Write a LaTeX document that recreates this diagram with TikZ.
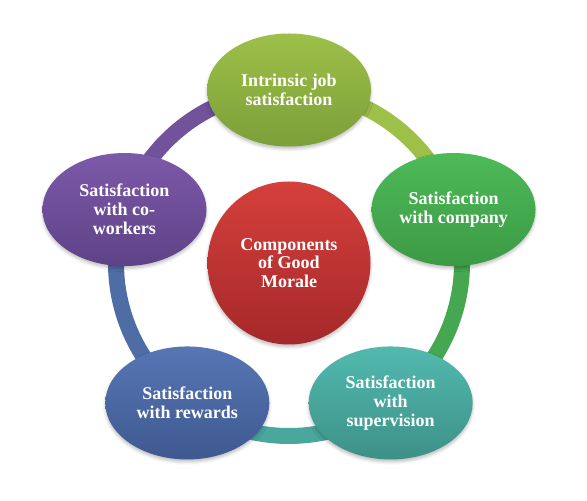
\documentclass[tikz,border=0pt]{standalone}
\usepackage{fontspec}
\setmainfont{Liberation Serif}
\usepackage{tikz}
\usetikzlibrary{calc}
\usetikzlibrary{shapes.geometric}
\usetikzlibrary{shadows.blur}

\definecolor{jobtop}{HTML}{9DC049}
\definecolor{jobbot}{HTML}{7C9F39}
\definecolor{comtop}{HTML}{4DBA58}
\definecolor{combot}{HTML}{3C9A45}
\definecolor{suptop}{HTML}{52B9AF}
\definecolor{supbot}{HTML}{3D9187}
\definecolor{rewtop}{HTML}{5676B4}
\definecolor{rewbot}{HTML}{3F5990}
\definecolor{cowtop}{HTML}{7D59A9}
\definecolor{cowbot}{HTML}{5E4287}
\definecolor{cortop}{HTML}{D4403B}
\definecolor{corbot}{HTML}{A6282A}

\tikzset{
part/.style={ellipse, minimum width=164pt, minimum height=113pt, inner sep=0pt,
  text=white, align=center, font=\fontsize{18}{18.8}\selectfont\bfseries,
  blur shadow={shadow xshift=0pt, shadow yshift=-2.5pt, shadow blur radius=3pt, shadow opacity=25}},
ring/.style={line width=16pt}
}

\begin{document}
\begin{tikzpicture}[x=1pt,y=1pt]

\useasboundingbox (0,0) rectangle (587,501);

\coordinate (c) at (289,238);
\foreach \n/\a in {job/90, com/18, sup/-54, rew/-126, cow/162} {\coordinate (p\n) at ($(c)+(\a:173)$);}

% ring
\draw [ring, jobtop] (pjob) arc [start angle=90, end angle=18, radius=173];
\draw [ring, comtop!90!black] (pcom) arc [start angle=18, end angle=-54, radius=173];
\draw [ring, suptop!90!black] (psup) arc [start angle=-54, end angle=-126, radius=173];
\draw [ring, rewtop!92!black] (prew) arc [start angle=-126, end angle=-198, radius=173];
\draw [ring, cowtop!92!black] (pcow) arc [start angle=162, end angle=90, radius=173];

\node [part, top color=jobtop, bottom color=jobbot] (job) at (pjob) {Intrinsic job\\satisfaction};
\node [part, top color=comtop, bottom color=combot] (com) at (pcom) {Satisfaction\\with company};
\node [part, top color=suptop, bottom color=supbot] (sup) at (psup) {Satisfaction\\with\\supervision};
\node [part, top color=rewtop, bottom color=rewbot] (rew) at (prew) {Satisfaction\\with rewards};
\node [part, top color=cowtop, bottom color=cowbot] (cow) at (pcow) {Satisfaction\\with co-\\workers};

\node [part, circle, minimum size=163pt, top color=cortop, bottom color=corbot] (core) at (c) {Components\\of Good\\Morale};

\end{tikzpicture}
\end{document}
